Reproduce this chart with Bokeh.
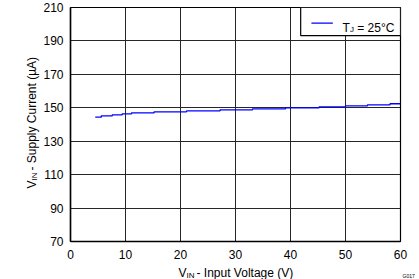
import math
from bokeh.plotting import figure
from bokeh.models import Label, FixedTicker, Range1d
from bokeh.embed import file_html
from bokeh.resources import INLINE

# Data (step-wise measured supply current)
vin = [4.5, 5.6, 7.6, 9.4, 11.1, 15.2, 21.1, 27.2, 33.1, 39.1, 45.2, 50.0, 54.0, 58.1, 60.0]
iq = [144.4, 145.2, 145.8, 146.4, 147.0, 147.6, 148.2, 148.8, 149.4, 150.0, 150.6, 151.2, 151.8, 152.4, 152.4]
x_ticks = [0, 10, 20, 30, 40, 50, 60]
y_ticks = [70, 90, 110, 130, 150, 170, 190, 210]

FONT = "Liberation Sans"
NB = "\u00a0"

p = figure(width=419, height=279, output_backend="svg", toolbar_location=None,
           x_range=Range1d(0, 60), y_range=Range1d(70, 210),
           min_border_left=70, min_border_right=19, min_border_top=7, min_border_bottom=38)
p.background_fill_color = "white"
p.border_fill_color = "white"
p.outline_line_color = "black"
p.outline_line_width = 1.2

for ax in (p.xaxis[0], p.yaxis[0]):
    ax.major_tick_out = 0
    ax.major_tick_in = 0
    ax.minor_tick_out = 0
    ax.minor_tick_in = 0
    ax.axis_line_color = "black"
    ax.axis_line_width = 1.5
    ax.major_label_text_font = FONT
    ax.major_label_text_font_size = "12px"
    ax.major_label_text_color = "black"
p.xaxis.ticker = FixedTicker(ticks=x_ticks)
p.yaxis.ticker = FixedTicker(ticks=y_ticks)
p.xaxis.major_label_standoff = 8
p.yaxis.major_label_standoff = 7

p.xgrid.ticker = FixedTicker(ticks=x_ticks)
p.ygrid.ticker = FixedTicker(ticks=y_ticks)
for g in (p.xgrid[0], p.ygrid[0]):
    g.grid_line_color = "#262626"
    g.grid_line_width = 1

p.step(vin, iq, mode="after", line_color="#0000FF", line_width=1.3)

# Legend box (top right)
p.quad(left=[41.85], right=[60], top=[210], bottom=[193.2],
       fill_color="white", line_color="black", line_width=1.2)
p.segment(x0=[43.8], y0=[200.6], x1=[47.7], y1=[200.6], line_color="#0000FF", line_width=1.3)

def lab(x, y, text, xo, yo, size="12px", angle=0.0, place="center"):
    l = Label(x=x, y=y, text=text, x_offset=xo, y_offset=yo,
              text_font=FONT, text_font_size=size, text_color="black",
              text_align="left", text_baseline="alphabetic", angle=angle)
    p.add_layout(l, place)

# Legend text T_J = 25°C
lab(60, 210, "T", -58, -20)
lab(60, 210, "J", -50.5, -21.5, size="8px")
lab(60, 210, NB + "= 25°C", -46.6, -20)

# X axis label: V_IN - Input Voltage (V)
lab(0, 70, "V" + NB + NB + " - Input Voltage (V)", 108, -31.5, place="below")
lab(0, 70, "IN", 116, -33.5, size="8px", place="right")

# Y axis label (rotated): V_IN - Supply Current (µA)
a = math.pi / 2
lab(0, 70, "V" + NB + NB + " - Supply Current (µA)", -38.3, 53, angle=a, place="left")
lab(0, 70, "IN", -36.3, 61, size="8px", angle=a, place="left")

# Figure code
lab(60, 70, "G017", 2, -34, size="5px", place="left")

open("out.html", "w").write(file_html(p, INLINE))
